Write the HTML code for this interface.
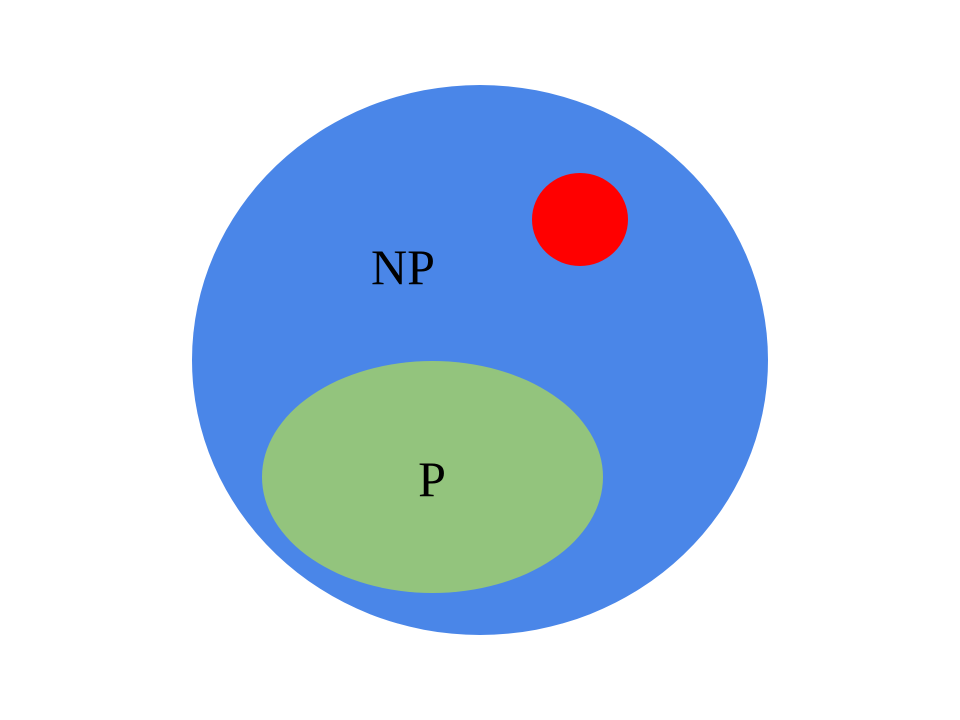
<!DOCTYPE html>
<html>
<head>
<meta charset="utf-8">
<style>
html,body{margin:0;padding:0;background:#fff;}
svg{display:block;}
</style>
</head>
<body>
<svg width="960" height="720" viewBox="0 0 960 720">
  <rect x="0" y="0" width="960" height="720" fill="#ffffff"/>
  <ellipse cx="480" cy="360" rx="288" ry="275" fill="#4a86e8"/>
  <ellipse cx="580" cy="219.5" rx="48" ry="46.5" fill="#ff0000"/>
  <ellipse cx="432.5" cy="477" rx="170.5" ry="116" fill="#93c47d"/>
  <text x="403" y="284" text-anchor="middle" font-family="Liberation Serif, serif" font-size="50" fill="#000">NP</text>
  <text x="432" y="496" text-anchor="middle" font-family="Liberation Serif, serif" font-size="50" fill="#000">P</text>
</svg>
</body>
</html>
